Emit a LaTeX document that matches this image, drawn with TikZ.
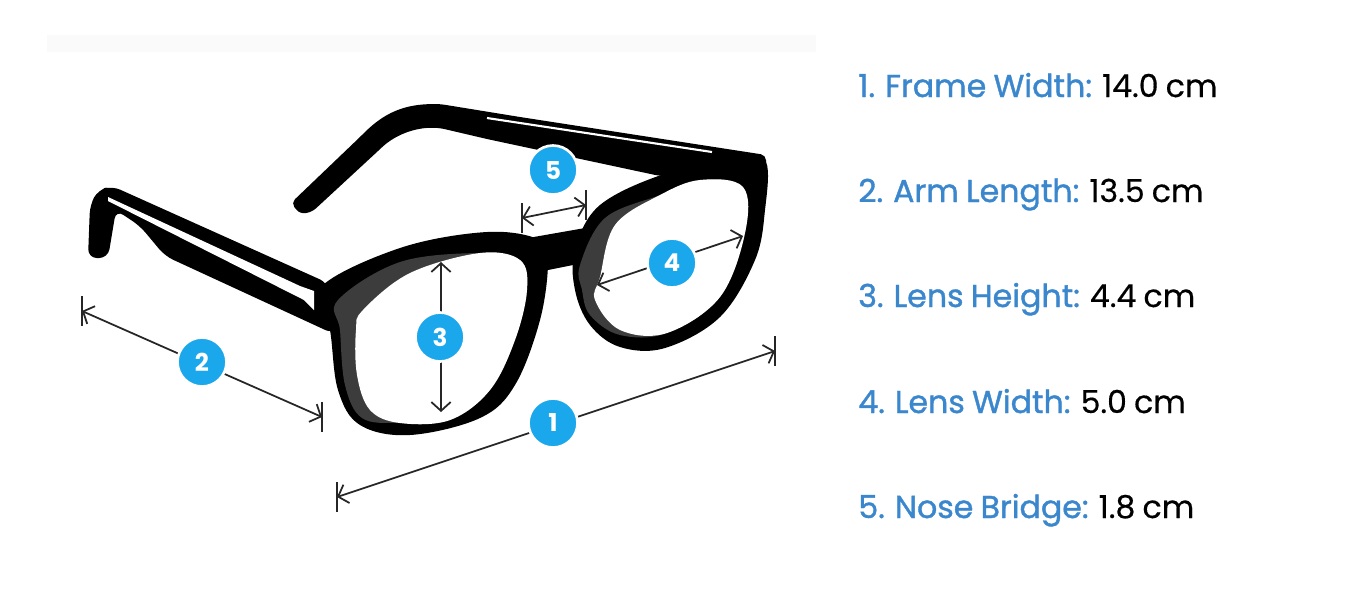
\documentclass[tikz,border=0pt]{standalone}
\usepackage{fontspec}
\setmainfont{Poppins}
\newfontfamily\labelfont[FakeBold=1.2,WordSpace=0.85]{Poppins}
\newfontfamily\valuefont[FakeBold=0.4,WordSpace=0.85]{Poppins}
\usetikzlibrary{arrows.meta,calc}
\definecolor{LBlue}{HTML}{3B87CE}
\definecolor{BadgeBlue}{HTML}{1AA7EC}
\definecolor{RimGray}{HTML}{3C3C3C}

\begin{document}
\begin{tikzpicture}[x=0.02cm,y=-0.02cm,
        dim/.style={draw=black!85, line width=1pt, {Straight Barb[length=5pt,width=11pt]}-{Straight Barb[length=5pt,width=11pt]}},
        tick/.style={draw=black!85, line width=1pt},
        badge/.style={circle, fill=BadgeBlue, draw=white, line width=1.5pt, minimum size=0.98cm, inner sep=0pt, text=white, font=\bfseries\fontsize{14}{14}\selectfont},
        item/.style={anchor=base west, inner sep=0pt, font=\fontsize{18}{21}\selectfont}]
        \useasboundingbox (0,0) rectangle (1361,600);
        \fill[black!2] (47,35) rectangle (816,52);
        % far arm
        \fill[rounded corners=3pt] (300,214) -- (291,203) -- (360,137) .. controls (385,112) and (405,104) .. (440,104) -- (520,117) -- (766,155) -- (766,172) -- (660,176) -- (487,139) -- (440,128) .. controls (415,127) and (395,135) .. (378,151) -- (312,212) -- cycle;
        \draw[white, line width=1.2pt] (487,118) -- (712,152);
        % near arm
        \fill[rounded corners=5pt] (88,258) -- (90,205) -- (98,190) -- (112,186) -- (328,283) -- (334,334) -- (165,256) -- (140,226) -- (116,210) -- (108,258) -- cycle;
        \fill[white] (108,197) -- (300,286) -- (314,291) -- (314,310) -- (304,300) -- (108,201) -- cycle;
        % front
        \fill plot[smooth cycle, tension=0.6] coordinates {(320,288) (400,248) (487,232) (540,240) (548,262) (540,320) (515,385) (480,418) (410,435) (360,425) (338,390) (330,330)};
        \fill plot[smooth cycle, tension=0.6] coordinates {(575,250) (600,205) (667,173) (740,158) (766,162) (765,210) (755,260) (720,317) (665,348) (620,347) (590,325) (575,290)};
        \fill (528,238) -- (585,228) -- (588,262) -- (538,272) -- cycle;
        \fill[RimGray] plot[smooth cycle, tension=0.6] coordinates {(338,300) (400,262) (480,253) (520,260) (527,290) (515,340) (490,390) (450,420) (400,423) (362,418) (345,385) (340,330)};
        \fill[RimGray] plot[smooth cycle, tension=0.6] coordinates {(580,265) (605,218) (660,195) (700,180) (743,187) (745,233) (720,297) (667,333) (620,335) (590,315) (582,290)};
        \fill[white] plot[smooth cycle, tension=0.6] coordinates {(363,310) (410,273) (480,253) (520,260) (527,290) (515,340) (490,390) (450,420) (400,423) (370,410) (357,375) (356,330)};
        \fill[white] plot[smooth cycle, tension=0.6] coordinates {(600,277) (615,225) (660,195) (700,180) (743,187) (745,233) (720,297) (667,333) (620,330) (595,300)};
        % measures
        \coordinate (w1) at (337,497); \coordinate (w2) at (775,351);
        \coordinate (a1) at (82,311);  \coordinate (a2) at (322,417);
        \coordinate (h1) at (441,262); \coordinate (h2) at (441,412);
        \coordinate (l1) at (597,285); \coordinate (l2) at (743,236);
        \coordinate (n1) at (522,218); \coordinate (n2) at (586,205);
        \draw[dim] (w1) -- (w2);
        \draw[dim] (a1) -- (a2);
        \draw[dim] (h1) -- (h2);
        \draw[dim] (l1) -- (l2);
        \draw[dim] (n1) -- (n2);
        \foreach \p in {w1,w2,a1,a2,n1,n2}
            {
                \draw[tick] ($(\p)+(0,-15)$) -- ($(\p)+(0,15)$);
            }
        \node[badge] (b1) at (553,423) {1};
        \node[badge] (b2) at (202,362) {2};
        \node[badge] (b3) at (440,337) {3};
        \node[badge] (b4) at (672,263) {4};
        \node[badge] (b5) at (553,170) {5};
        % list
        \foreach \i/\yb/\lbl/\val in {1/97/Frame Width/14.0 cm, 2/202/Arm Length/13.5 cm, 3/307/Lens Height/4.4 cm, 4/413/Lens Width/5.0 cm, 5/518/Nose Bridge/1.8 cm}
            {
                \node[item] (item\i) at (858,\yb) {{\labelfont\color{LBlue}\i. \lbl:}{\valuefont\space\val}};
            }
\end{tikzpicture}
\end{document}
